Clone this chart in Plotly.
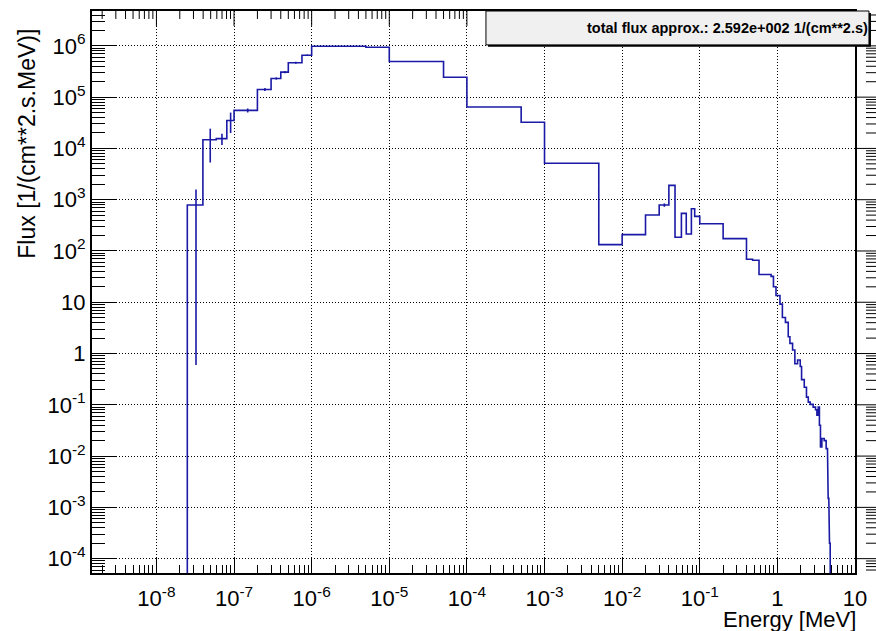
import math
import plotly.graph_objects as go

# Neutron flux spectrum: variable-width energy bins [MeV] and bin contents
edges = [2.5e-8, 3.97e-8, 5.9e-8, 8.07e-8, 1e-7, 2e-7, 3e-7, 4e-7, 5e-7, 7.5e-7, 1e-6,
         5e-6, 1e-5, 5e-5, 1e-4, 5e-4, 1e-3, 5e-3, 1e-2, 2e-2, 3e-2, 4e-2, 4.8e-2, 5.8e-2,
         6.7e-2, 7.8e-2, 8.6e-2, 0.1, 0.2, 0.4, 0.48, 0.58, 0.83, 0.89, 0.96, 1.08, 1.16,
         1.27, 1.38, 1.45, 1.57, 1.68, 1.82, 1.97, 2.05, 2.22, 2.37, 2.5, 2.65, 2.89, 3.1,
         3.23, 3.36, 3.48, 3.59, 3.74, 4.01, 4.25, 4.42, 4.51, 4.6, 4.69, 4.79, 4.86]
flux = [790, 14800, 15500, 35000, 55200, 141000, 231000, 307000, 468000, 656000,
        980000, 940000, 494000, 245000, 64100, 32300, 5150, 133, 208, 502, 786, 1900, 185,
        542, 215, 667, 473, 340, 174, 69, 66, 34.8, 32, 20, 13.5, 9.2, 5.06, 4.05, 2.13,
        1.58, 1.17, 0.63, 0.75, 0.56, 0.31, 0.22, 0.141, 0.113, 0.102, 0.09, 0.08, 0.063,
        0.09, 0.04, 0.015, 0.022, 0.02, 0.014, 0.003, 0.0015, 0.0006, 0.0002, 9e-5]
flux_err = [789.4, 9500, 3800, 15000, 5000, 9000, 12000, 15000, 20000, 25000] + \
           [0] * 10 + [60] + [0] * 42

x_tick_vals = [1e-8, 1e-7, 1e-6, 1e-5, 1e-4, 1e-3, 1e-2, 1e-1, 1, 10]
x_tick_text = ["10<sup>-8</sup>", "10<sup>-7</sup>", "10<sup>-6</sup>", "10<sup>-5</sup>",
               "10<sup>-4</sup>", "10<sup>-3</sup>", "10<sup>-2</sup>", "10<sup>-1</sup>",
               "1", "10"]
y_tick_vals = [1e-4, 1e-3, 1e-2, 1e-1, 1, 10, 1e2, 1e3, 1e4, 1e5, 1e6]
y_tick_text = ["10<sup>-4</sup>", "10<sup>-3</sup>", "10<sup>-2</sup>", "10<sup>-1</sup>",
               "1", "10", "10<sup>2</sup>", "10<sup>3</sup>", "10<sup>4</sup>",
               "10<sup>5</sup>", "10<sup>6</sup>"]

stat_text = "total flux approx.: 2.592e+002 1/(cm**2.s)"
x_title = "Energy [MeV]"
y_title = "Flux [1/(cm**2.s.MeV)]"

# canvas geometry
W, H = 876, 631
L, R, T, B = 92, 857, 9, 573
X_RANGE = [-8.83, 1.0]
Y_RANGE = [-4.28, 6.68]
FONT = "Liberation Sans, Arial, Helvetica, sans-serif"
LINE_COLOR = "#1a1aa6"


def px_x(p):
    return (p - L) / (R - L)


def px_y(p):
    return (B - p) / (B - T)


# histogram outline: rises from below the axis, steps through each bin, falls back
floor = 1e-9
step_x, step_y = [edges[0]], [floor]
for lo, hi, v in zip(edges[:-1], edges[1:], flux):
    step_x += [lo, hi]
    step_y += [v, v]
step_x.append(edges[-1])
step_y.append(floor)

centers, vals, errs = [], [], []
for lo, hi, v, e in zip(edges[:-1], edges[1:], flux, flux_err):
    if e > 0:
        centers.append(0.5 * (lo + hi))
        vals.append(v)
        errs.append(e)

fig = go.Figure()
fig.add_trace(go.Scatter(x=step_x, y=step_y, mode="lines",
                         line=dict(color=LINE_COLOR, width=1.6),
                         showlegend=False, hoverinfo="skip"))
fig.add_trace(go.Scatter(x=centers, y=vals, mode="markers",
                         marker=dict(size=0.1, color="rgba(0,0,0,0)"),
                         error_y=dict(type="data", array=errs, visible=True,
                                      color=LINE_COLOR, thickness=1.6, width=0),
                         showlegend=False, hoverinfo="skip"))

x_minor = [m * 10.0 ** k for k in range(-9, 1) for m in range(2, 10)]
y_minor = [m * 10.0 ** k for k in range(-5, 7) for m in range(2, 10)]

grid_dash = "1px,2px"
fig.update_xaxes(type="log", range=X_RANGE, tickmode="array",
                 tickvals=x_tick_vals, ticktext=x_tick_text,
                 ticks="inside", ticklen=15, tickwidth=1, tickcolor="black",
                 minor=dict(tickmode="array", tickvals=x_minor, ticks="inside",
                            ticklen=8, tickwidth=1, tickcolor="black", showgrid=False),
                 showgrid=True, gridcolor="black", gridwidth=1, griddash=grid_dash,
                 showline=True, linecolor="black", linewidth=2, mirror=True,
                 zeroline=False, ticklabelstandoff=5,
                 tickfont=dict(family=FONT, size=22, color="black"))
fig.update_yaxes(type="log", range=Y_RANGE, tickmode="array",
                 tickvals=y_tick_vals, ticktext=y_tick_text,
                 ticks="inside", ticklen=24, tickwidth=1, tickcolor="black",
                 minor=dict(tickmode="array", tickvals=y_minor, ticks="inside",
                            ticklen=13, tickwidth=1, tickcolor="black", showgrid=False),
                 showgrid=True, gridcolor="black", gridwidth=1, griddash=grid_dash,
                 showline=True, linecolor="black", linewidth=2, mirror=True,
                 zeroline=False,
                 tickfont=dict(family=FONT, size=22, color="black"))

shapes = []
# right-hand axis ticks, hanging in from a frame edge just past the canvas
x_edge = px_x(881)
for v in y_tick_vals + y_minor:
    yp = (math.log10(v) - Y_RANGE[0]) / (Y_RANGE[1] - Y_RANGE[0])
    if 0 <= yp <= 1:
        length = 24 if v in y_tick_vals else 13
        shapes.append(dict(type="line", xref="paper", yref="paper",
                           x0=x_edge, x1=px_x(881 - length), y0=yp, y1=yp,
                           line=dict(color="black", width=1)))

# top axis ticks, pointing down into the frame
for v in x_tick_vals + x_minor:
    xp = (math.log10(v) - X_RANGE[0]) / (X_RANGE[1] - X_RANGE[0])
    if 0 <= xp <= 1:
        length = 15 if v in x_tick_vals else 8
        shapes.append(dict(type="line", xref="paper", yref="paper",
                           x0=xp, x1=xp, y0=1.0, y1=px_y(T + length),
                           line=dict(color="black", width=1)))

# statistics box
shapes.append(dict(type="rect", xref="paper", yref="paper",
                   x0=px_x(489), x1=px_x(873), y0=px_y(45), y1=px_y(11),
                   fillcolor="black", line=dict(width=0)))
shapes.append(dict(type="rect", xref="paper", yref="paper",
                   x0=px_x(487), x1=px_x(871), y0=px_y(43), y1=px_y(9),
                   fillcolor="#f0f0f0", line=dict(color="black", width=1)))

annotations = [
    dict(text="<b>" + stat_text + "</b>", xref="paper", yref="paper",
         x=px_x(872), y=px_y(26), xanchor="right", yanchor="middle", showarrow=False,
         font=dict(family=FONT, size=14.5, color="black")),
    dict(text=x_title, xref="paper", yref="paper", x=px_x(860), y=px_y(620),
         xanchor="right", yanchor="middle", showarrow=False,
         font=dict(family=FONT, size=22, color="black")),
    dict(text=y_title, xref="paper", yref="paper", x=px_x(26), y=px_y(142),
         xanchor="center", yanchor="middle", textangle=-90, showarrow=False,
         font=dict(family=FONT, size=23, color="black")),
]

fig.update_layout(width=W, height=H, margin=dict(l=L, r=W - R, t=T, b=H - B),
                  paper_bgcolor="white", plot_bgcolor="white",
                  shapes=shapes, annotations=annotations, showlegend=False,
                  font=dict(family=FONT, color="black"))

fig.write_html("out.html")
